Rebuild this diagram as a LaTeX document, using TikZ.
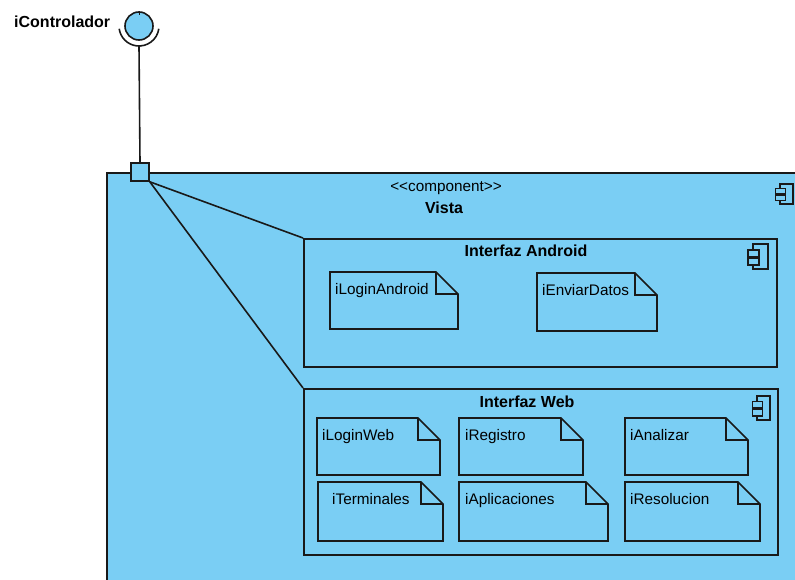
\documentclass[tikz,border=0pt]{standalone}
\usepackage{fontspec}
\setmainfont{Liberation Sans}
\definecolor{vpblue}{RGB}{122,206,244}
\definecolor{vpline}{RGB}{25,25,25}
\tikzset{
  compbox/.style={draw=vpline, fill=vpblue, line width=1.6pt, inner sep=0pt, rectangle},
  notebody/.style={draw=vpline, fill=vpblue, line width=1.6pt, line join=miter},
  notelabel/.style={anchor=base west, inner sep=0pt, font=\fontsize{15.3}{18}\selectfont},
  boldlabel/.style={anchor=base, inner sep=0pt, font=\fontsize{16}{19}\selectfont\bfseries},
  plainlabel/.style={anchor=base, inner sep=0pt, font=\fontsize{15.3}{18}\selectfont},
  iconline/.style={draw=vpline, line width=1.4pt},
  wire/.style={draw=vpline, line width=1.6pt},
}
% dog-eared note: name, left, top, right, bottom, text x, text baseline, text
\newcommand\uinote[8]{%
  \draw[notebody] (#2,#3) -- (#4-22,#3) -- (#4,#3+22) -- (#4,#5) -- (#2,#5) -- cycle;
  \draw[notebody, fill=none] (#4-22,#3) -- (#4-22,#3+22) -- (#4,#3+22);
  \node[notelabel] (#1) at (#6,#7) {#8};
}
% component symbol: left, top, width, height of its body
\newcommand\compicon[4]{%
  \draw[iconline] (#1,#2) rectangle ++(#3,#4);
  \draw[iconline, fill=vpblue] (#1-0.33*#3,#2+0.24*#4) rectangle ++(0.73*#3,0.26*#4);
  \draw[iconline, fill=vpblue] (#1-0.33*#3,#2+0.56*#4) rectangle ++(0.73*#3,0.28*#4);
}
\begin{document}
\begin{tikzpicture}[x=1pt, y=-1pt]
\useasboundingbox (0,0) rectangle (795,580);

% provided interface
\node[boldlabel, anchor=base west] (ictl) at (14,28) {iControlador};
\node[circle, draw=vpline, fill=vpblue, line width=1.6pt, minimum size=28pt, inner sep=0pt] (ball) at (139,26) {};
\draw[wire, line width=1pt] (ball.north) -- ++(0,4);
\draw[wire] ([shift={(8:20)}]ball.center) arc[start angle=8, end angle=172, radius=20];
\coordinate (sock) at (139,46);

% outer component
\node[compbox, anchor=north west, minimum width=730, minimum height=440] (vista) at (106,172) {};
\compicon{780}{184}{13}{20}
\node[plainlabel] (stereo) at (446,192) {<\kern0pt<component>\kern0pt>};
\node[boldlabel] (vname) at (444,214) {Vista};

% port
\node[compbox, minimum size=18pt] (port) at (140,172) {};
\draw[wire] (sock) -- (port.north);

% Interfaz Android
\node[compbox, anchor=north west, minimum width=473, minimum height=128] (andr) at (303,238) {};
\node[boldlabel] (andrt) at (526,256) {Interfaz Android};
\compicon{753}{244}{15}{25}
\uinote{nla}{330}{272}{458}{329}{335}{294}{iLoginAndroid}
\uinote{ned}{537}{273}{657}{331}{542}{295}{iEnviarDatos}

% Interfaz Web
\node[compbox, anchor=north west, minimum width=474, minimum height=166] (web) at (303,388) {};
\node[boldlabel] (webt) at (527,407) {Interfaz Web};
\compicon{757}{396}{13}{24}
\uinote{nlw}{317}{418}{440}{475}{322}{440}{iLoginWeb}
\uinote{nre}{459}{418}{583}{475}{465}{440}{iRegistro}
\uinote{nan}{625}{418}{748}{475}{630}{440}{iAnalizar}
\uinote{nte}{318}{482}{443}{541}{332}{504}{iTerminales}
\uinote{nap}{459}{482}{608}{541}{465}{504}{iAplicaciones}
\uinote{nrs}{625}{482}{760}{541}{630}{504}{iResolucion}

% delegation links from the port
\draw[wire] (port.south east) -- (andr.north west);
\draw[wire] (port.south east) -- (web.north west);
\end{tikzpicture}
\end{document}
